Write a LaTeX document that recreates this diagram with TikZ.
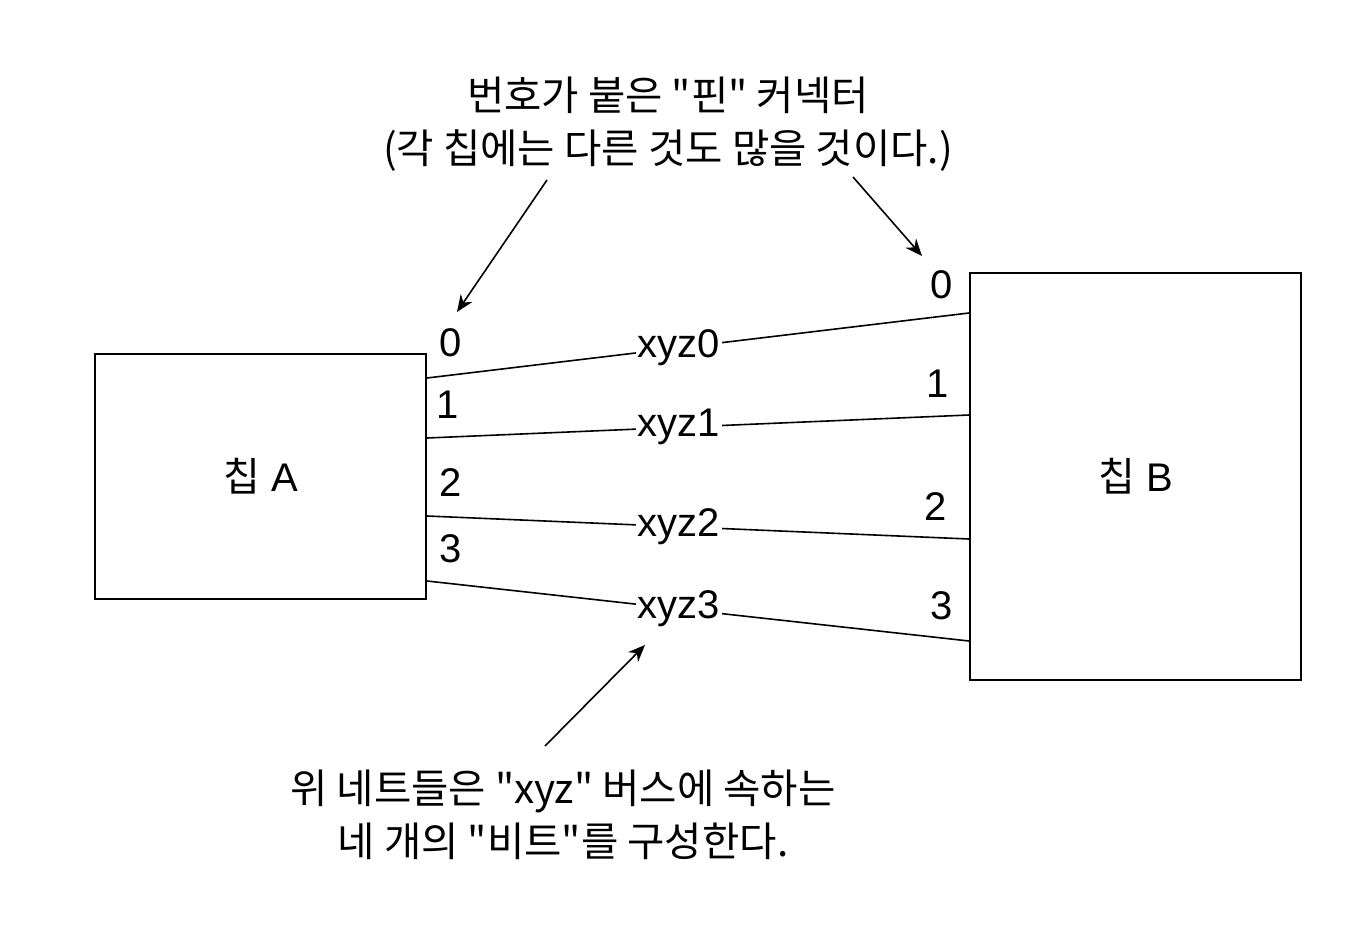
\documentclass[tikz,border=0pt]{standalone}
\usepackage{fontspec}
\setmainfont{Liberation Sans}
\newfontfamily\krfont{Noto Sans CJK KR}
\usetikzlibrary{positioning,arrows.meta}

\begin{document}
\begin{tikzpicture}[x=0.5pt, y=-0.5pt, font=\fontsize{20}{24}\selectfont,
    chip/.style={draw, rectangle, line width=1pt, minimum width=165.5pt},
    wire/.style={line width=0.8pt},
    buslabel/.style={fill=white, inner sep=1pt, pos=0.465},
    pinlabel/.style={inner sep=0pt},
    note/.style={align=center, font=\krfont\fontsize{20.3}{26.5}\selectfont},
    pointer/.style={line width=0.8pt, -{Stealth[length=8.5pt, width=7pt]}}]
    \useasboundingbox (0,0) rectangle (1358,936);

    \node[chip, minimum height=122.5pt](chip-a) at (260.5,476.5){{\krfont 칩} A};
    \node[chip, minimum height=203.5pt](chip-b) at (1135.5,476.5){{\krfont 칩} B};

    \draw[wire](chip-a.east |- 0,378) -- node[buslabel]{xyz0} (chip-b.west |- 0,313);
    \draw[wire](chip-a.east |- 0,438) -- node[buslabel]{xyz1} (chip-b.west |- 0,415);
    \draw[wire](chip-a.east |- 0,516) -- node[buslabel]{xyz2} (chip-b.west |- 0,539);
    \draw[wire](chip-a.east |- 0,581) -- node[buslabel]{xyz3} (chip-b.west |- 0,641);

    \node[pinlabel](pin-a0) at (451,343){0};
    \node[pinlabel](pin-a1) at (448,405){1};
    \node[pinlabel](pin-a2) at (451,483){2};
    \node[pinlabel](pin-a3) at (451,549){3};
    \node[pinlabel](pin-b0) at (942,285){0};
    \node[pinlabel](pin-b1) at (938,384){1};
    \node[pinlabel](pin-b2) at (936,507){2};
    \node[pinlabel](pin-b3) at (942,606){3};

    \node[note](note-pins) at (668,124){번호가 붙은 "핀" 커넥터\\(각 칩에는 다른 것도 많을 것이다.)};
    \node[note](note-bus) at (563,815){위 네트들은 "xyz" 버스에 속하는\\네 개의 "비트"를 구성한다.};

    \coordinate (pins-tail-a) at (547,180);
    \coordinate (pins-head-a) at (457,312);
    \coordinate (pins-tail-b) at (853,177);
    \coordinate (pins-head-b) at (922,256);
    \coordinate (bus-tail) at (545,746);
    \coordinate (bus-head) at (645,645);
    \draw[pointer](pins-tail-a) -- (pins-head-a);
    \draw[pointer](pins-tail-b) -- (pins-head-b);
    \draw[pointer](bus-tail) -- (bus-head);
\end{tikzpicture}
\end{document}
